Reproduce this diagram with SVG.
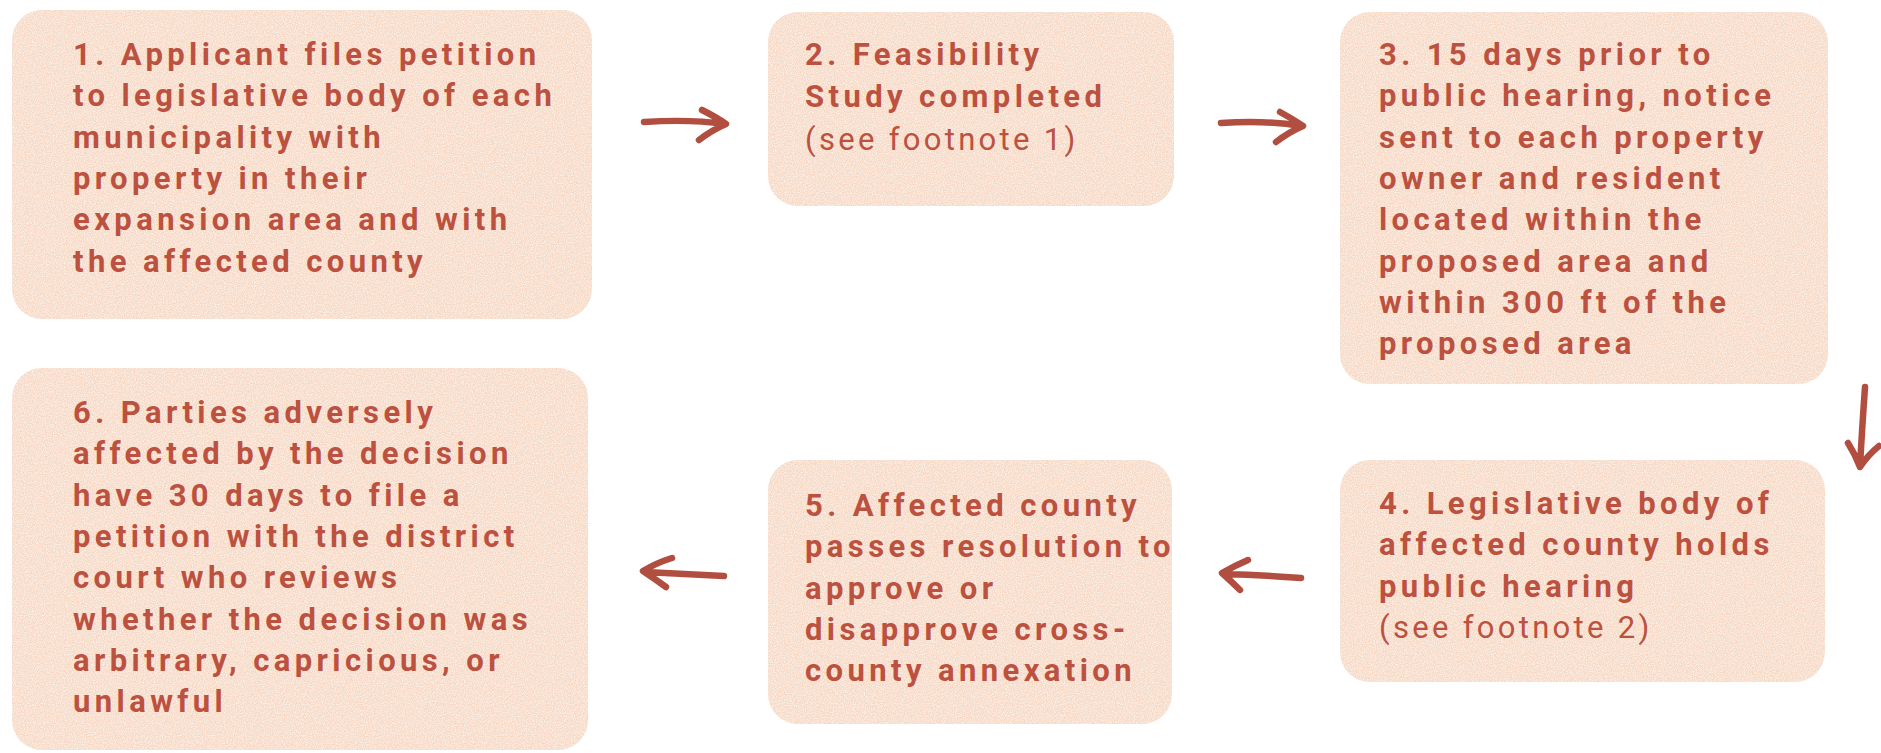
<svg xmlns="http://www.w3.org/2000/svg" width="1881" height="753" viewBox="0 0 1881 753">
<defs>
<filter id="grain" x="0" y="0" width="100%" height="100%">
<feTurbulence type="fractalNoise" baseFrequency="0.9" numOctaves="2" seed="3" result="n"/>
<feColorMatrix in="n" type="matrix" values="0 0 0 0 1  0 0 0 0 0.96  0 0 0 0 0.9  0 0 0 -1.6 1.05" result="spk"/>
<feComposite in="spk" in2="SourceGraphic" operator="atop"/>
</filter>
<style>
.box{fill:#F6D8C5;}
.t{font-family:Roboto,"Liberation Sans",sans-serif;font-size:31px;font-weight:700;fill:#BC5140;letter-spacing:4.4px;}
.r{font-weight:400;letter-spacing:3.3px;}
.arr{fill:none;stroke:#B24E40;stroke-width:6.5;stroke-linecap:round;stroke-linejoin:round;}
</style>
</defs>
<rect width="1881" height="753" fill="#ffffff"/>
<g id="node1">
<rect class="box" x="12" y="10" width="580" height="309" rx="30" filter="url(#grain)"/>
<text class="t"><tspan x="73" y="65">1. Applicant files petition</tspan><tspan x="73" y="106">to legislative body of each</tspan><tspan x="73" y="148">municipality with</tspan><tspan x="73" y="189">property in their</tspan><tspan x="73" y="230">expansion area and with</tspan><tspan x="73" y="272">the affected county</tspan></text>
</g>
<g id="node2">
<rect class="box" x="768" y="12" width="406" height="194" rx="30" filter="url(#grain)"/>
<text class="t"><tspan x="805" y="65">2. Feasibility</tspan><tspan x="805" y="107">Study completed</tspan><tspan class="r" x="805" y="150">(see footnote 1)</tspan></text>
</g>
<g id="node3">
<rect class="box" x="1340" y="12" width="488" height="372" rx="30" filter="url(#grain)"/>
<text class="t"><tspan x="1379" y="65">3. 15 days prior to</tspan><tspan x="1379" y="106">public hearing, notice</tspan><tspan x="1379" y="148">sent to each property</tspan><tspan x="1379" y="189">owner and resident</tspan><tspan x="1379" y="230">located within the</tspan><tspan x="1379" y="272">proposed area and</tspan><tspan x="1379" y="313">within 300 ft of the</tspan><tspan x="1379" y="354">proposed area</tspan></text>
</g>
<g id="node4">
<rect class="box" x="1340" y="460" width="485" height="222" rx="30" filter="url(#grain)"/>
<text class="t"><tspan x="1379" y="514">4. Legislative body of</tspan><tspan x="1379" y="555">affected county holds</tspan><tspan x="1379" y="597">public hearing</tspan><tspan class="r" x="1379" y="638">(see footnote 2)</tspan></text>
</g>
<g id="node5">
<rect class="box" x="768" y="460" width="404" height="264" rx="30" filter="url(#grain)"/>
<text class="t"><tspan x="805" y="516">5. Affected county</tspan><tspan x="805" y="557">passes resolution to</tspan><tspan x="805" y="599">approve or</tspan><tspan x="805" y="640">disapprove cross-</tspan><tspan x="805" y="681">county annexation</tspan></text>
</g>
<g id="node6">
<rect class="box" x="12" y="368" width="576" height="382" rx="30" filter="url(#grain)"/>
<text class="t"><tspan x="73" y="423">6. Parties adversely</tspan><tspan x="73" y="464">affected by the decision</tspan><tspan x="73" y="506">have 30 days to file a</tspan><tspan x="73" y="547">petition with the district</tspan><tspan x="73" y="588">court who reviews</tspan><tspan x="73" y="630">whether the decision was</tspan><tspan x="73" y="671">arbitrary, capricious, or</tspan><tspan x="73" y="712">unlawful</tspan></text>
</g>
<g id="connectors">
<path class="arr" d="M644 122 Q690 119 724 124 M702 110 Q716 117 726 124 Q712 130 699 140"/>
<path class="arr" d="M1221 123 Q1266 120 1301 126 M1280 112 Q1293 119 1303 126 Q1289 132 1276 142"/>
<path class="arr" d="M1865 387 Q1862 430 1860 466 M1848 443 Q1855 454 1860 467 Q1868 455 1879 446"/>
<path class="arr" d="M1301 578 Q1260 575 1224 574 M1248 560 Q1234 566 1222 573 Q1232 582 1240 590"/>
<path class="arr" d="M724 576 Q684 574 645 572 M672 558 Q656 563 643 571 Q655 579 666 587"/>
</g>
</svg>
